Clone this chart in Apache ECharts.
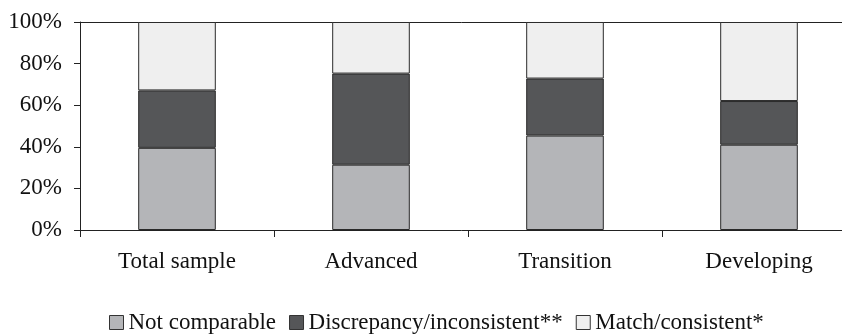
<!DOCTYPE html>
<html><head><meta charset="utf-8">
<script src="https://cdn.jsdelivr.net/npm/echarts@6/dist/echarts.min.js"></script>
<style>html,body{margin:0;padding:0;background:#fff}#c{width:842px;height:334px}</style>
</head><body><div id="c"></div>
<script>
var categories = ['Total sample', 'Advanced', 'Transition', 'Developing'];
var notComparable = [39.5, 31.4, 45.4, 41.0];
var discrepancy = [27.6, 43.8, 27.4, 21.0];
var match = [32.9, 24.8, 27.2, 38.0];
var yTicks = [0, 20, 40, 60, 80, 100];

var font = 'Liberation Serif';
var chart = echarts.init(document.getElementById('c'));
function ser(name, data, color) {
  return {
    name: name, type: 'bar', stack: 'a', data: data, barWidth: '40%',
    itemStyle: { color: color, borderColor: '#2a2a2a', borderWidth: 1 },
    emphasis: { disabled: true }
  };
}
chart.setOption({
  animation: false,
  textStyle: { fontFamily: font },
  grid: { left: 80, width: 776, top: 22, bottom: 104, containLabel: false, outerBoundsMode: 'none' },
  legend: {
    left: 104, top: 306, itemWidth: 14, itemHeight: 14, itemGap: 13,
    icon: 'rect',
    textStyle: { fontFamily: font, fontSize: 23, color: '#111' },
    data: [
      { name: 'Not comparable', itemStyle: { borderColor: '#333', borderWidth: 1 } },
      { name: 'Discrepancy/inconsistent**', itemStyle: { borderColor: '#333', borderWidth: 1 } },
      { name: 'Match/consistent*', itemStyle: { borderColor: '#333', borderWidth: 1 } }
    ]
  },
  xAxis: [{
    type: 'category', data: categories,
    axisLine: { lineStyle: { color: '#222', width: 1 } },
    axisTick: { show: true, length: 7, lineStyle: { color: '#222' } },
    axisLabel: { fontFamily: font, fontSize: 23, color: '#111', margin: 20 }
  }, {
    type: 'category', data: categories, position: 'top',
    axisLine: { show: true, lineStyle: { color: '#222', width: 1 } },
    axisTick: { show: false }, axisLabel: { show: false }
  }],
  yAxis: {
    type: 'value', min: 0, max: 100, interval: 20,
    axisLine: { show: true, lineStyle: { color: '#222', width: 1 } },
    axisTick: { show: true, length: 6, lineStyle: { color: '#222' } },
    splitLine: { show: false },
    axisLabel: { fontFamily: font, fontSize: 23, color: '#111', margin: 18,
      formatter: function (v) { return yTicks.indexOf(v) >= 0 ? v + '%' : ''; } }
  },
  series: [
    ser('Not comparable', notComparable, '#b4b5b8'),
    ser('Discrepancy/inconsistent**', discrepancy, '#555658'),
    ser('Match/consistent*', match, '#efefef')
  ]
});
</script></body></html>
